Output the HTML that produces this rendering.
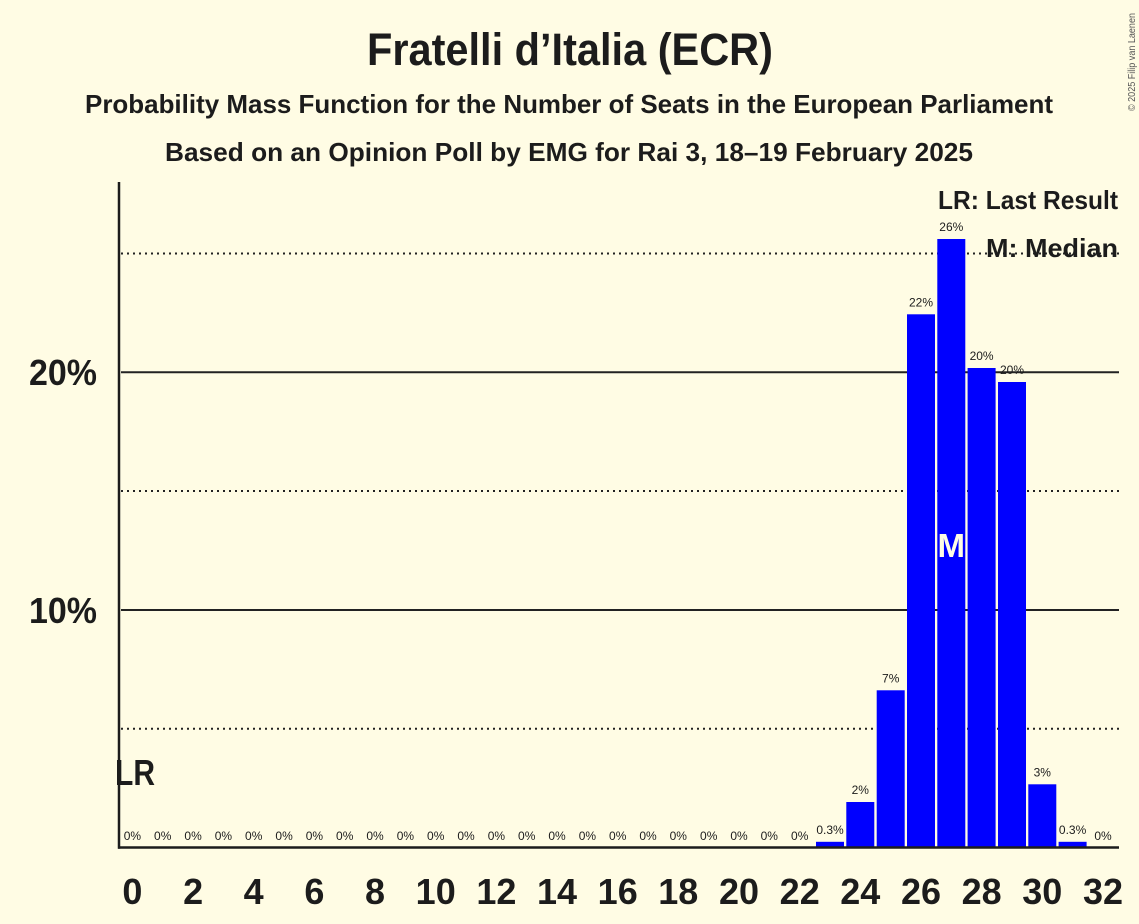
<!DOCTYPE html>
<html>
<head>
<meta charset="utf-8">
<style>
  html, body { margin:0; padding:0; background:#fffce4; }
  svg { display:block; }
  text { font-family: "Liberation Sans", sans-serif; fill:#1c1c1c; }
</style>
</head>
<body>
<svg width="1139" height="924" viewBox="0 0 1139 924" xmlns="http://www.w3.org/2000/svg">
  <rect x="0" y="0" width="1139" height="924" fill="#fffce4"/>

  <!-- Titles -->
  <text x="570" y="65" font-size="45" font-weight="bold" text-anchor="middle" textLength="406" lengthAdjust="spacingAndGlyphs">Fratelli d’Italia (ECR)</text>
  <text x="569" y="113" font-size="26" font-weight="bold" text-anchor="middle" textLength="968" lengthAdjust="spacingAndGlyphs">Probability Mass Function for the Number of Seats in the European Parliament</text>
  <text x="569" y="161" font-size="26" font-weight="bold" text-anchor="middle" textLength="808" lengthAdjust="spacingAndGlyphs">Based on an Opinion Poll by EMG for Rai 3, 18–19 February 2025</text>

  <!-- Copyright -->
  <text transform="translate(1135,111) rotate(-90)" font-size="10" fill="#555" style="fill:#555" textLength="98" lengthAdjust="spacingAndGlyphs">© 2025 Filip van Laenen</text>

  <!-- Gridlines -->
  <line x1="121" y1="253.5" x2="1119" y2="253.5" stroke="#222" stroke-width="2" stroke-dasharray="2,4"/>
  <line x1="121" y1="491" x2="1119" y2="491" stroke="#222" stroke-width="2" stroke-dasharray="2,4"/>
  <line x1="121" y1="728.7" x2="1119" y2="728.7" stroke="#222" stroke-width="2" stroke-dasharray="2,4"/>
  <line x1="121" y1="372.3" x2="1119" y2="372.3" stroke="#222" stroke-width="2"/>
  <line x1="121" y1="610" x2="1119" y2="610" stroke="#222" stroke-width="2"/>

  <!-- Y labels -->
  <text x="97" y="385" font-size="36" font-weight="bold" text-anchor="end" textLength="68" lengthAdjust="spacingAndGlyphs">20%</text>
  <text x="97" y="623" font-size="36" font-weight="bold" text-anchor="end" textLength="68" lengthAdjust="spacingAndGlyphs">10%</text>

  <!-- Bars -->
  <g fill="#0000ff">
    <rect x="816.0" y="841.8" width="28" height="5.7"/>
    <rect x="846.3" y="802.0" width="28" height="45.5"/>
    <rect x="876.7" y="690.3" width="28" height="157.2"/>
    <rect x="907.0" y="314.3" width="28" height="533.2"/>
    <rect x="937.3" y="239.0" width="28" height="608.5"/>
    <rect x="967.6" y="368.0" width="28" height="479.5"/>
    <rect x="998.0" y="382.0" width="28" height="465.5"/>
    <rect x="1028.3" y="784.3" width="28" height="63.2"/>
    <rect x="1058.6" y="841.8" width="28" height="5.7"/>
  </g>

  <!-- Median marker -->
  <text x="951.3" y="557" font-size="33" font-weight="bold" text-anchor="middle" style="fill:#fffce4">M</text>

  <!-- Bar labels -->
  <g font-size="12" text-anchor="middle">
    <text x="132.4" y="840">0%</text>
    <text x="162.7" y="840">0%</text>
    <text x="193.1" y="840">0%</text>
    <text x="223.4" y="840">0%</text>
    <text x="253.7" y="840">0%</text>
    <text x="284.1" y="840">0%</text>
    <text x="314.4" y="840">0%</text>
    <text x="344.7" y="840">0%</text>
    <text x="375.0" y="840">0%</text>
    <text x="405.4" y="840">0%</text>
    <text x="435.7" y="840">0%</text>
    <text x="466.0" y="840">0%</text>
    <text x="496.4" y="840">0%</text>
    <text x="526.7" y="840">0%</text>
    <text x="557.0" y="840">0%</text>
    <text x="587.4" y="840">0%</text>
    <text x="617.7" y="840">0%</text>
    <text x="648.0" y="840">0%</text>
    <text x="678.3" y="840">0%</text>
    <text x="708.7" y="840">0%</text>
    <text x="739.0" y="840">0%</text>
    <text x="769.3" y="840">0%</text>
    <text x="799.7" y="840">0%</text>
    <text x="830.0" y="834">0.3%</text>
    <text x="860.3" y="794">2%</text>
    <text x="890.7" y="682.5">7%</text>
    <text x="921.0" y="306.5">22%</text>
    <text x="951.3" y="231">26%</text>
    <text x="981.6" y="360">20%</text>
    <text x="1012.0" y="374">20%</text>
    <text x="1042.3" y="776.5">3%</text>
    <text x="1072.6" y="834">0.3%</text>
    <text x="1103.0" y="840">0%</text>
  </g>

  <!-- Axes -->
  <line x1="119" y1="182" x2="119" y2="848.7" stroke="#1c1c1c" stroke-width="2.5"/>
  <line x1="118" y1="847.5" x2="1119" y2="847.5" stroke="#1c1c1c" stroke-width="2.5"/>

  <!-- LR marker -->
  <text x="135" y="785" font-size="36" font-weight="bold" text-anchor="middle" textLength="40" lengthAdjust="spacingAndGlyphs">LR</text>

  <!-- Legend -->
  <text x="1118" y="209" font-size="26" font-weight="bold" text-anchor="end" textLength="180" lengthAdjust="spacingAndGlyphs">LR: Last Result</text>
  <text x="1118" y="257" font-size="26" font-weight="bold" text-anchor="end" textLength="132" lengthAdjust="spacingAndGlyphs">M: Median</text>

  <!-- X tick labels -->
  <g font-size="36" font-weight="bold" text-anchor="middle">
    <text x="132.4" y="904">0</text>
    <text x="193.1" y="904">2</text>
    <text x="253.7" y="904">4</text>
    <text x="314.4" y="904">6</text>
    <text x="375.0" y="904">8</text>
    <text x="435.7" y="904">10</text>
    <text x="496.4" y="904">12</text>
    <text x="557.0" y="904">14</text>
    <text x="617.7" y="904">16</text>
    <text x="678.3" y="904">18</text>
    <text x="739.0" y="904">20</text>
    <text x="799.7" y="904">22</text>
    <text x="860.3" y="904">24</text>
    <text x="921.0" y="904">26</text>
    <text x="981.6" y="904">28</text>
    <text x="1042.3" y="904">30</text>
    <text x="1103.0" y="904">32</text>
  </g>
</svg>
</body>
</html>
